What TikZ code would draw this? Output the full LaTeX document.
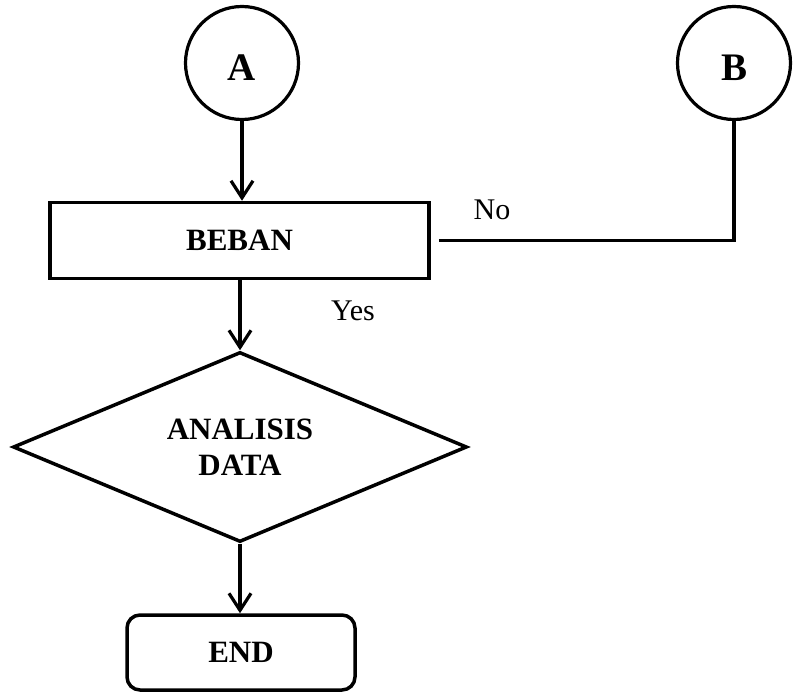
\documentclass[tikz,border=0pt]{standalone}
\usepackage{fontspec}
\setmainfont{Liberation Serif}
\usetikzlibrary{shapes.geometric,arrows.meta}
\begin{document}
\begin{tikzpicture}[x=1pt,y=-1pt,
  box/.style={draw, line width=3.5pt, rectangle, inner sep=0pt, align=center,
    font=\fontsize{31}{36}\selectfont\bfseries},
  conn/.style={draw, circle, line width=3.2pt, minimum size=113pt, inner sep=0pt,
    text height=36pt, text depth=0pt,
    font=\fontsize{39}{44}\selectfont\bfseries},
  arr/.style={line width=3.2pt, -{Straight Barb[length=17pt,width=22pt]}},
  plain/.style={line width=3.2pt},
  lbl/.style={inner sep=0pt, font=\fontsize{30}{36}\selectfont}
]
\useasboundingbox (0,0) rectangle (793,693);

\node[conn] (A) at (242,63) {A};
\node[conn] (B) at (734,63) {B};
\node[box, minimum width=379pt, minimum height=76pt] (beban) at (239.5,240.5) {BEBAN};
\node[box, shape=diamond, aspect=2.39, minimum width=454pt, minimum height=190pt] (analisis) at (240,447) {ANALISIS\\DATA};
\node[box, rounded corners=13pt, minimum width=228pt, minimum height=75pt] (end) at (241,652.5) {END};

\node[lbl] (no) at (492,210) {No};
\node[lbl] (yes) at (353,311) {Yes};

\draw[arr] (A.south) -- (A.south |- beban.north);
\draw[arr] (beban.south -| analisis.north) -- (analisis.north);
\draw[arr] (analisis.south) -- (analisis.south |- end.north);
\coordinate (bstart) at ([xshift=8pt]beban.east);
\draw[plain] (bstart) -- (bstart -| B.south) -- (B.south);
\end{tikzpicture}
\end{document}
